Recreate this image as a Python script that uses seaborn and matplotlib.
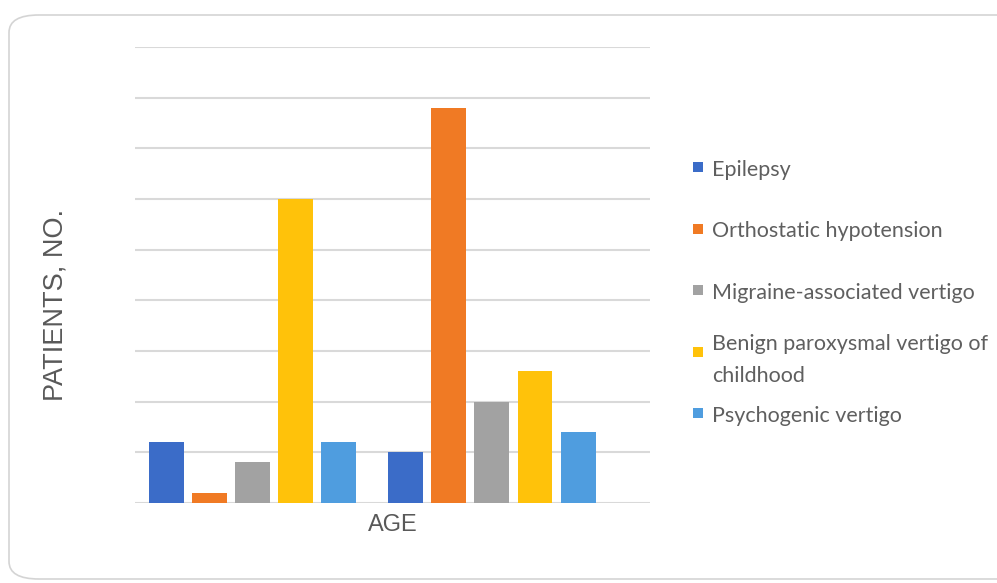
import pandas as pd
import seaborn as sns
import matplotlib.pyplot as plt
from matplotlib.patches import FancyBboxPatch, Rectangle

# datos (grilla cada 5 pacientes)
grupos = ["Group 1", "Group 2"]
diagnosticos = ["Epilepsy", "Orthostatic hypotension", "Migraine-associated vertigo",
                "Benign paroxysmal vertigo of\nchildhood", "Psychogenic vertigo"]
pacientes_g1 = [6, 1, 4, 30, 6]
pacientes_g2 = [5, 39, 10, 13, 7]
colores = ["#3b6cc8", "#f07a24", "#a2a2a2", "#ffc20a", "#4f9ddf"]

filas = []
for g, vals in zip(grupos, [pacientes_g1, pacientes_g2]):
    for d, v in zip(diagnosticos, vals):
        filas.append({"age": g, "diagnosis": d, "patients": v})
df = pd.DataFrame(filas)

sns.set_style("white")
plt.rcParams['font.family'] = ['Liberation Sans', 'DejaVu Sans']

W, H = 997, 583
fig = plt.figure(figsize=(W / 100, H / 100), dpi=100)

# marco redondeado de fondo
marco = FancyBboxPatch((9 / W, 1 - 579 / H), (1100 - 9) / W, (579 - 15) / H,
                       boxstyle="round,pad=0,rounding_size=0.03",
                       transform=fig.transFigure, facecolor="white",
                       edgecolor="#d4d4d4", linewidth=1.2, zorder=0)
fig.add_artist(marco)

ax = fig.add_axes([135 / W, 80 / H, 515 / W, 456 / H])
ax.patch.set_alpha(0)
sns.barplot(data=df, x="age", y="patients", hue="diagnosis", hue_order=diagnosticos,
            palette=colores, saturation=1, width=0.9, gap=0.19, legend=False, ax=ax,
            edgecolor="none", zorder=3)

ax.set_ylim(0, 45)
ax.set_yticks(range(0, 46, 5))
ax.set_xlim(-0.49, 1.66)
ax.yaxis.grid(True, color="#d9d9d9", linewidth=1.5)
ax.set_axisbelow(True)
ax.tick_params(length=0, labelleft=False, labelbottom=False)
for s in ax.spines.values():
    s.set_visible(False)

ax.set_xlabel("AGE", fontsize=17, color="#595959", labelpad=8)
ax.set_ylabel("")
fig.text(56 / W, 1 - 305 / H, "PATIENTS, NO.", rotation=90, fontsize=19.5,
         color="#595959", ha="center", va="center")

# leyenda armada a mano (marcador al nivel de la primera linea)
y0, paso = 167, 61.5
for i, (d, c) in enumerate(zip(diagnosticos, colores)):
    y = y0 + i * paso
    fig.add_artist(Rectangle((693 / W, 1 - (y + 5) / H), 10 / W, 10 / H,
                             transform=fig.transFigure, facecolor=c, edgecolor="none"))
    fig.text(712 / W, 1 - (y + 1) / H, d, fontsize=15.5, color="#5f5f5f",
             family=["Lato", "DejaVu Sans"], va="center_baseline", ha="left",
             linespacing=1.75)

fig.savefig("out.png", dpi=100)
